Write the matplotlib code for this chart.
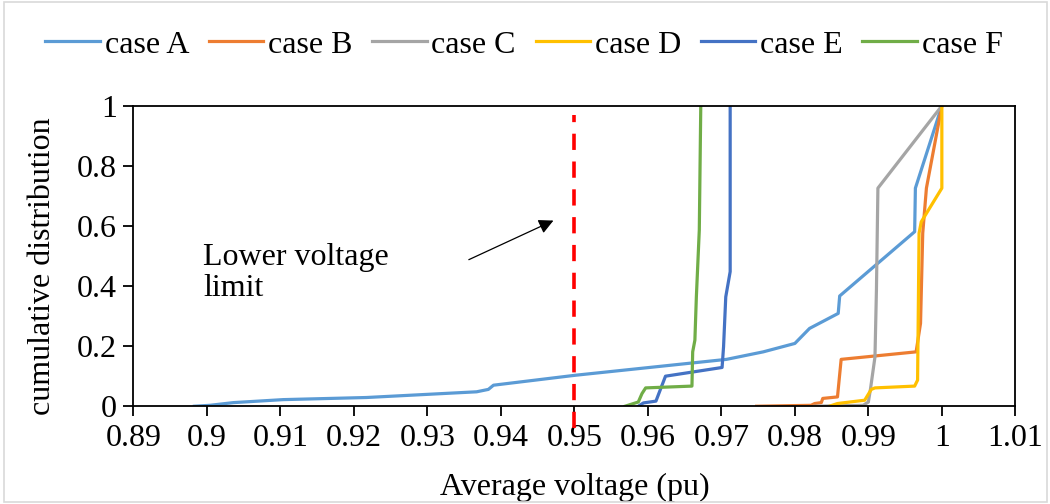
import matplotlib
matplotlib.use('Agg')
import matplotlib.pyplot as plt
from matplotlib.patches import Rectangle

plt.rcParams['font.family'] = ['Liberation Serif', 'DejaVu Serif']

# (voltage in pu, cumulative fraction)
case_a_v = [0.8983, 0.9004, 0.9036, 0.9104, 0.9217, 0.9367, 0.9383, 0.939, 0.9501,
            0.9707, 0.9757, 0.98, 0.982, 0.9859, 0.9861, 0.9963, 0.9964, 1.0]
case_a_p = [0.0, 0.003, 0.012, 0.022, 0.029, 0.048, 0.056, 0.07, 0.103,
            0.156, 0.181, 0.209, 0.259, 0.309, 0.367, 0.581, 0.726, 1.0]

case_b_v = [0.9748, 0.9822, 0.9827, 0.9836, 0.9838, 0.9858, 0.9863, 0.9965, 0.9971,
            0.9974, 0.9979, 1.0]
case_b_p = [0.0, 0.003, 0.009, 0.012, 0.026, 0.031, 0.156, 0.181, 0.276,
            0.576, 0.726, 1.0]

case_c_v = [0.9827, 0.9893, 0.99, 0.9903, 0.9909, 0.9911, 0.9913, 1.0]
case_c_p = [0.0, 0.003, 0.014, 0.059, 0.164, 0.387, 0.726, 1.0]

case_d_v = [0.9847, 0.9858, 0.9895, 0.9904, 0.9909, 0.9963, 0.9967, 0.9969, 0.9972,
            1.0, 1.0]
case_d_p = [0.0, 0.009, 0.02, 0.056, 0.061, 0.067, 0.087, 0.576, 0.614,
            0.726, 1.0]

case_e_v = [0.9587, 0.9594, 0.9611, 0.9624, 0.9701, 0.9703, 0.9706, 0.9712, 0.9712]
case_e_p = [0.0, 0.011, 0.017, 0.1, 0.129, 0.198, 0.364, 0.448, 1.0]

case_f_v = [0.9569, 0.9587, 0.9592, 0.9597, 0.966, 0.9661, 0.9664, 0.9666, 0.967, 0.9672]
case_f_p = [0.0, 0.014, 0.042, 0.061, 0.067, 0.181, 0.22, 0.364, 0.587, 1.0]

labels = ['case A', 'case B', 'case C', 'case D', 'case E', 'case F']
colors = ['#5B9BD5', '#ED7D31', '#A5A5A5', '#FFC000', '#4472C4', '#70AD47']

x_ticks = [0.89, 0.9, 0.91, 0.92, 0.93, 0.94, 0.95, 0.96, 0.97, 0.98, 0.99, 1.0, 1.01]
x_tick_labels = ['0.89', '0.9', '0.91', '0.92', '0.93', '0.94', '0.95', '0.96',
                 '0.97', '0.98', '0.99', '1', '1.01']
y_ticks = [0, 0.2, 0.4, 0.6, 0.8, 1.0]
y_tick_labels = ['0', '0.2', '0.4', '0.6', '0.8', '1']

limit_v = 0.95

fig = plt.figure(figsize=(10.5, 5.04), dpi=100)
ax = fig.add_axes([0.127, 0.194, 0.840, 0.596])

series = [(case_a_v, case_a_p), (case_b_v, case_b_p), (case_c_v, case_c_p),
          (case_d_v, case_d_p), (case_e_v, case_e_p), (case_f_v, case_f_p)]
for (v, p), lab, c in zip(series, labels, colors):
    ax.plot(v, p, color=c, lw=2.3, label=lab, solid_joinstyle='round')

# lower voltage limit
ax.plot([limit_v, limit_v], [-0.073, 0.97], color='#FF0000', lw=2.6,
        dashes=(4.5, 3.2), clip_on=False)

ax.annotate('', xy=(0.9475, 0.622), xytext=(0.9353, 0.484),
            arrowprops=dict(arrowstyle='-|>', color='black', lw=0.9,
                            mutation_scale=22))
ax.text(0.8995, 0.545, 'Lower voltage\nlimit', fontsize=23, va='top', ha='left',
        linespacing=1.1)

ax.set_xlim(0.89, 1.01)
ax.set_ylim(0, 1)
ax.set_xticks(x_ticks)
ax.set_xticklabels(x_tick_labels)
ax.set_yticks(y_ticks)
ax.set_yticklabels(y_tick_labels)
ax.tick_params(axis='both', labelsize=23, direction='out', length=7, width=1.3)
ax.tick_params(axis='x', pad=6)
ax.tick_params(axis='y', pad=5)
for s in ax.spines.values():
    s.set_linewidth(1.3)

ax.set_xlabel('Average voltage (pu)', fontsize=23)
ax.set_ylabel('cumulative distribution', fontsize=23)
ax.xaxis.set_label_coords(0.5, -0.222)
ax.yaxis.set_label_coords(-0.087, 0.465)

fig.legend(loc='center', bbox_to_anchor=(0.499, 0.911), ncol=6, frameon=False,
           fontsize=23, handlelength=1.7, handletextpad=0.15, columnspacing=0.62)

fig.patches.append(Rectangle((0.004, 0.003), 0.993, 0.993, transform=fig.transFigure,
                             fill=False, edgecolor='#D9D9D9', lw=1.2))

fig.savefig('out.png', dpi=100)
